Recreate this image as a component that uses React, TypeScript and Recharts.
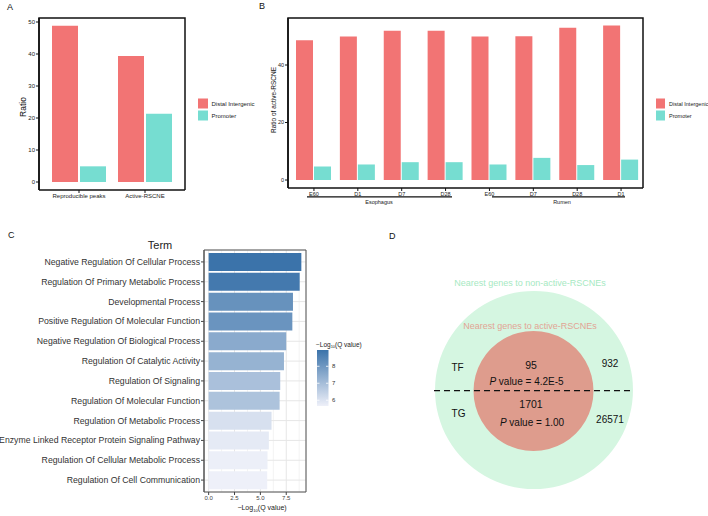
import React from 'react';
import { BarChart, Bar, XAxis, YAxis, Cell, CartesianGrid, PieChart, Pie } from 'recharts';

const FONT = '"Liberation Sans", Arial, Helvetica, sans-serif';
const RED = '#F27474';
const TEAL = '#76DDD1';

// panel A
const peakSets = ['Reproducible peaks', 'Active-RSCNE'];
const distalRatio = [48.8, 39.4];
const promoterRatio = [4.9, 21.3];
const ticksA = [0, 10, 20, 30, 40, 50];

// panel B
const stageLabels = ['E60', 'D1', 'D7', 'D28', 'E60', 'D7', 'D28', 'D1'];
const tissueOf = ['Esophagus', 'Esophagus', 'Esophagus', 'Esophagus', 'Rumen', 'Rumen', 'Rumen', 'Rumen'];
const distalByStage = [48.6, 49.9, 51.9, 51.9, 49.9, 50.0, 53.0, 53.7];
const promoterByStage = [4.7, 5.4, 6.2, 6.2, 5.4, 7.7, 5.2, 7.1];
const ticksB = [0, 20, 40];

// panel C
const goTerms = [
  'Negative Regulation Of Cellular Process',
  'Regulation Of Primary Metabolic Process',
  'Developmental Process',
  'Positive Regulation Of Molecular Function',
  'Negative Regulation Of Biological Process',
  'Regulation Of Catalytic Activity',
  'Regulation Of Signaling',
  'Regulation Of Molecular Function',
  'Regulation Of Metabolic Process',
  'Enzyme Linked Receptor Protein Signaling Pathway',
  'Regulation Of Cellular Metabolic Process',
  'Regulation Of Cell Communication',
];
const logQ = [8.96, 8.8, 8.15, 8.09, 7.5, 7.28, 6.92, 6.86, 6.08, 5.82, 5.69, 5.66];
const logQTicks = [0, 2.5, 5, 7.5];
const logQMinor = [1.25, 3.75, 6.25, 8.75];
const legendTicks = [8, 7, 6];

// panel D
const tfCounts = [95, 932]; // active, non-active
const tgCounts = [1701, 26571];
const pValues = ['4.2E-5', '1.00'];

const LOW = [238, 240, 249];
const HIGH = [59, 115, 170];
const qMin = Math.min(...logQ);
const qMax = Math.max(...logQ);
function qColor(v: number) {
  const t = (v - qMin) / (qMax - qMin);
  const c = LOW.map((l, i) => Math.round(l + (HIGH[i] - l) * t));
  return `rgb(${c[0]},${c[1]},${c[2]})`;
}

const dataA = peakSets.map((name, i) => ({ name, distal: distalRatio[i], promoter: promoterRatio[i] }));
const dataB = stageLabels.map((s, i) => ({
  key: `${tissueOf[i]}-${s}`,
  distal: distalByStage[i],
  promoter: promoterByStage[i],
}));
const dataC = goTerms.map((term, i) => ({ term, q: logQ[i] }));

const frame = { stroke: '#111', strokeWidth: 1.5 };
const frameC = { stroke: '#555', strokeWidth: 1 };

function Sub({ children }: { children: React.ReactNode }) {
  return (
    <tspan baselineShift="sub" fontSize="0.6em">
      {children}
    </tspan>
  );
}

function TermTick({ x, y, payload }: any) {
  return (
    <text x={x} y={y} textAnchor="end" dominantBaseline="central" fontSize={8.7} fill="#333">
      {payload.value}
    </text>
  );
}

export default function App() {
  const barTop = 350;
  const barH = 56;
  const legendY = (v: number) => barTop + ((qMax - v) / (qMax - qMin)) * barH;

  return (
    <div
      style={{
        position: 'absolute',
        left: 0,
        top: 0,
        width: 708,
        height: 516,
        background: '#fff',
        fontFamily: FONT,
        overflow: 'hidden',
      }}
    >
      {/* A */}
      <div style={{ position: 'absolute', left: 0, top: 0 }}>
        <BarChart
          width={240}
          height={210}
          data={dataA}
          margin={{ top: 18, right: 55, bottom: 0, left: 0 }}
          barCategoryGap={6}
          barGap={2}
        >
          <XAxis
            dataKey="name"
            padding={{ left: 7, right: 7 }}
            height={20}
            tickSize={3}
            tickMargin={1}
            tick={{ fontSize: 6, fill: '#222' }}
            axisLine={frame}
            tickLine={{ stroke: '#111' }}
          />
          <YAxis
            type="number"
            domain={[-2.5, 51.25]}
            allowDataOverflow
            ticks={ticksA}
            width={39}
            tickSize={3}
            tickMargin={1}
            tick={{ fontSize: 6, fill: '#222' }}
            axisLine={frame}
            tickLine={{ stroke: '#111' }}
          />
          <Bar dataKey="distal" fill={RED} isAnimationActive={false} />
          <Bar dataKey="promoter" fill={TEAL} isAnimationActive={false} />
        </BarChart>
      </div>

      {/* B */}
      <div style={{ position: 'absolute', left: 240, top: 0 }}>
        <BarChart
          width={468}
          height={210}
          data={dataB}
          margin={{ top: 18, right: 65, bottom: 0, left: 0 }}
          barCategoryGap={4}
          barGap={1}
        >
          <XAxis
            dataKey="key"
            padding={{ left: 4, right: 0 }}
            height={22}
            tickSize={3}
            tickMargin={1}
            interval={0}
            tickFormatter={(_v: string, i: number) => stageLabels[i]}
            tick={{ fontSize: 5.5, fill: '#222' }}
            axisLine={frame}
            tickLine={{ stroke: '#111' }}
          />
          <YAxis
            type="number"
            domain={[-2.78, 56.35]}
            allowDataOverflow
            ticks={ticksB}
            width={48}
            tickSize={3}
            tickMargin={1}
            tick={{ fontSize: 5.5, fill: '#222' }}
            axisLine={frame}
            tickLine={{ stroke: '#111' }}
          />
          <Bar dataKey="distal" fill={RED} isAnimationActive={false} />
          <Bar dataKey="promoter" fill={TEAL} isAnimationActive={false} />
        </BarChart>
      </div>

      {/* C */}
      <div style={{ position: 'absolute', left: 0, top: 240 }}>
        <BarChart
          width={310}
          height={276}
          data={dataC}
          layout="vertical"
          margin={{ top: 10, right: 4, bottom: 8, left: 4 }}
          barCategoryGap={1}
        >
          <CartesianGrid stroke="#f3f3f3" horizontal={false} verticalValues={logQMinor} />
          <CartesianGrid stroke="#e6e6e6" />
          <XAxis
            type="number"
            domain={[-0.45, 9.41]}
            allowDataOverflow
            ticks={logQTicks}
            tickFormatter={(v: number) => v.toFixed(1)}
            height={16}
            tickSize={3}
            tickMargin={1}
            tick={{ fontSize: 6, fill: '#444' }}
            axisLine={frameC}
            tickLine={{ stroke: '#444' }}
          />
          <YAxis
            type="category"
            dataKey="term"
            width={200}
            padding={{ top: 2, bottom: 2 }}
            interval={0}
            tickSize={3}
            tickMargin={1}
            tick={<TermTick />}
            axisLine={frameC}
            tickLine={{ stroke: '#444' }}
          />
          <Bar dataKey="q" isAnimationActive={false}>
            {dataC.map((d) => (
              <Cell key={d.term} fill={qColor(d.q)} />
            ))}
          </Bar>
        </BarChart>
      </div>

      {/* D */}
      <div style={{ position: 'absolute', left: 380, top: 240 }}>
        <PieChart width={310} height={270} margin={{ top: 0, right: 0, bottom: 0, left: 0 }}>
          <Pie
            data={[{ name: 'Nearest genes to non-active-RSCNEs', value: tfCounts[1] + tgCounts[1] }]}
            dataKey="value"
            cx={154}
            cy={150}
            innerRadius={0}
            outerRadius={99}
            fill="#D5F6E1"
            stroke="none"
            isAnimationActive={false}
          />
          <Pie
            data={[{ name: 'Nearest genes to active-RSCNEs', value: tfCounts[0] + tgCounts[0] }]}
            dataKey="value"
            cx={153.5}
            cy={151}
            innerRadius={0}
            outerRadius={60}
            fill="#DE9C8D"
            stroke="none"
            isAnimationActive={false}
          />
        </PieChart>
      </div>

      {/* annotations */}
      <svg
        width={708}
        height={516}
        style={{ position: 'absolute', left: 0, top: 0, pointerEvents: 'none' }}
        fontFamily={FONT}
      >
        <defs>
          <linearGradient id="qgrad" x1="0" y1="0" x2="0" y2="1">
            <stop offset="0" stopColor={qColor(qMax)} />
            <stop offset="1" stopColor={qColor(qMin)} />
          </linearGradient>
        </defs>

        {/* panel frames (top / right edges) */}
        <polyline points="39,190 39,18 185,18 185,190" fill="none" stroke="#111" strokeWidth={1.5} />
        <polyline points="288,188 288,18 643,18 643,188" fill="none" stroke="#111" strokeWidth={1.5} />
        <polyline points="204,492 204,250 306,250 306,492" fill="none" stroke="#555" strokeWidth={1} />

        {/* panel letters */}
        <g fontSize={9} fill="#111" dominantBaseline="central">
          <text x={7} y={7}>A</text>
          <text x={259} y={6}>B</text>
          <text x={8} y={235}>C</text>
          <text x={389} y={236}>D</text>
        </g>

        {/* A */}
        <text x={23} y={107} fontSize={8.5} fill="#111" textAnchor="middle" dominantBaseline="central" transform="rotate(-90 23 107)">
          Ratio
        </text>
        <rect x={198} y={98.5} width={10} height={10} fill={RED} />
        <rect x={198} y={110.5} width={10} height={10} fill={TEAL} />
        <g fontSize={6} fill="#222" dominantBaseline="central">
          <text x={211.5} y={103.5}>Distal Intergenic</text>
          <text x={211.5} y={115.5}>Promoter</text>
        </g>

        {/* B */}
        <text x={273} y={100} fontSize={6.5} fill="#111" textAnchor="middle" dominantBaseline="central" transform="rotate(-90 273 100)">
          Ratio of active-RSCNE
        </text>
        <line x1={307} x2={452} y1={196.8} y2={196.8} stroke="#111" strokeWidth={1.2} />
        <line x1={492} x2={625} y1={196.8} y2={196.8} stroke="#111" strokeWidth={1.2} />
        <g fontSize={5.5} fill="#222" textAnchor="middle" dominantBaseline="central">
          <text x={379} y={202}>Esophagus</text>
          <text x={562} y={202}>Rumen</text>
        </g>
        <rect x={656} y={98.5} width={9} height={10} fill={RED} />
        <rect x={656} y={110.5} width={9} height={10} fill={TEAL} />
        <g fontSize={5.5} fill="#222" dominantBaseline="central">
          <text x={669} y={103.5}>Distal Intergenic</text>
          <text x={669} y={115.5}>Promoter</text>
        </g>

        {/* C */}
        <text x={160} y={245} fontSize={11} fill="#222" textAnchor="middle" dominantBaseline="central">
          Term
        </text>
        <text x={262} y={507.5} fontSize={7} fill="#222" textAnchor="middle" dominantBaseline="central">
          −Log<Sub>10</Sub>(Q value)
        </text>
        <text x={316} y={344} fontSize={6.5} fill="#222" dominantBaseline="central">
          −Log<Sub>10</Sub>(Q value)
        </text>
        <rect x={317} y={barTop} width={11.5} height={barH} fill="url(#qgrad)" />
        {legendTicks.map((t) => (
          <g key={t}>
            <line x1={317} x2={319.5} y1={legendY(t)} y2={legendY(t)} stroke="#fff" strokeWidth={0.8} />
            <line x1={326} x2={328.5} y1={legendY(t)} y2={legendY(t)} stroke="#fff" strokeWidth={0.8} />
            <text x={332} y={legendY(t)} fontSize={6} fill="#333" dominantBaseline="central">
              {t}
            </text>
          </g>
        ))}

        {/* D */}
        <text x={530} y={283} fontSize={9} fill="#A6E9C2" textAnchor="middle" dominantBaseline="central">
          Nearest genes to non-active-RSCNEs
        </text>
        <text x={530} y={326} fontSize={9} fill="#E2A494" textAnchor="middle" dominantBaseline="central">
          Nearest genes to active-RSCNEs
        </text>
        <line x1={434} x2={633} y1={390.7} y2={390.7} stroke="#111" strokeWidth={1.3} strokeDasharray="6 4" />
        <g fontSize={10} fill="#111" textAnchor="middle" dominantBaseline="central">
          <text x={457.5} y={367}>TF</text>
          <text x={458.5} y={413}>TG</text>
          <text x={531} y={364.5} fontSize={10.5}>{tfCounts[0]}</text>
          <text x={610} y={363.5}>{tfCounts[1]}</text>
          <text x={531} y={403.5} fontSize={10.5}>{tgCounts[0]}</text>
          <text x={610} y={419.5}>{tgCounts[1]}</text>
          <text x={526.5} y={381}>
            <tspan fontStyle="italic">P</tspan> value = {pValues[0]}
          </text>
          <text x={532} y={422}>
            <tspan fontStyle="italic">P</tspan> value = {pValues[1]}
          </text>
        </g>
      </svg>
    </div>
  );
}
